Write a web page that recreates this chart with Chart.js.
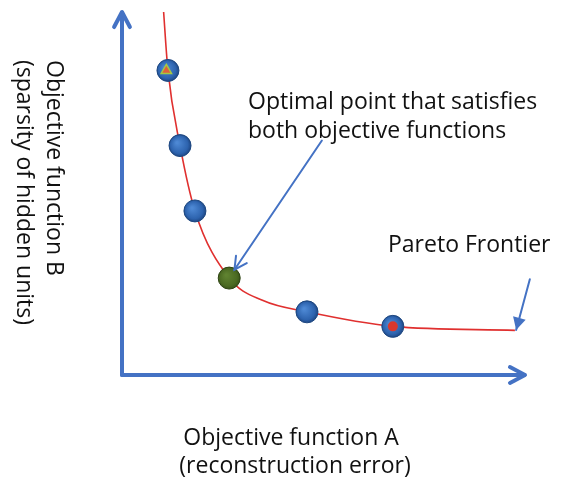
<!DOCTYPE html>
<html><head><meta charset="utf-8">
<script src="https://cdn.jsdelivr.net/npm/chart.js@4/dist/chart.umd.min.js"></script>
<style>html,body{margin:0;padding:0;background:#fff}#wrap{width:564px;height:482px}</style>
</head><body><div id="wrap"><canvas id="c" width="564" height="482"></canvas></div>
<script>
// Pareto frontier curve, axis units 0..100
const curveX = [10.2, 11.4, 14.4, 18.1, 26.6, 35.0, 45.9, 67.2, 97.5];
const curveY = [102, 83.9, 63.2, 45.2, 26.7, 20.5, 17.4, 13.4, 12.3];
// solutions on the frontier
const pointX = [11.4, 14.4, 18.1, 45.9, 67.2];
const pointY = [83.9, 63.2, 45.2, 17.4, 13.4];
// optimal point
const optimalX = [26.6];
const optimalY = [26.7];
// red marked solution
const redX = [67.2];
const redY = [13.4];
// small triangle marker on first point
const triX = [11.0];
const triY = [83.9];

const xTitle = ["Objective function A", "(reconstruction error)"];
const yTitle = ["Objective function B", "(sparsity of hidden units)"];
const annoText = ["Optimal point that satisfies", "both objective functions"];
const paretoText = "Pareto Frontier";
// arrows: [fromX, fromY, toX, toY] in data units
const optimalArrow = [49.6, 64.6, 27.9, 29.0];
const paretoArrow = [101.2, 26.4, 97.8, 12.4];

const zip = (xs, ys) => xs.map((x, i) => ({x, y: ys[i]}));
const FONT = '"Open Sans", "Noto Sans", sans-serif';
const BLUE = '#4472c4';

function sphere(base, light, dark) {
  return (ctx) => {
    const ch = ctx.chart;
    if (!ch.scales || !ch.scales.x || !ctx.parsed) return base;
    const px = ch.scales.x.getPixelForValue(ctx.parsed.x);
    const py = ch.scales.y.getPixelForValue(ctx.parsed.y);
    if (!isFinite(px) || !isFinite(py)) return base;
    const g = ch.ctx.createRadialGradient(px - 3, py - 3, 1, px, py, 12);
    g.addColorStop(0, light);
    g.addColorStop(0.7, base);
    g.addColorStop(1, dark);
    return g;
  };
}

function arrowHead(c, x1, y1, x2, y2, len, open) {
  const a = Math.atan2(y2 - y1, x2 - x1);
  const sp = Math.PI / 6.5;
  c.beginPath();
  c.moveTo(x2 - len * Math.cos(a - sp), y2 - len * Math.sin(a - sp));
  c.lineTo(x2, y2);
  c.lineTo(x2 - len * Math.cos(a + sp), y2 - len * Math.sin(a + sp));
  if (open) { c.stroke(); } else { c.closePath(); c.fill(); }
}

const decor = {
  id: 'decor',
  beforeDatasetsDraw(chart) {
    const c = chart.ctx, a = chart.chartArea;
    c.save();
    c.strokeStyle = BLUE; c.lineWidth = 4; c.lineCap = 'round'; c.lineJoin = 'round';
    c.beginPath(); c.moveTo(a.left, a.bottom); c.lineTo(a.left, a.top + 1); c.stroke();
    arrowHead(c, a.left, a.bottom, a.left, a.top, 17, true);
    c.beginPath(); c.moveTo(a.left, a.bottom); c.lineTo(a.right - 1, a.bottom); c.stroke();
    arrowHead(c, a.left, a.bottom, a.right, a.bottom, 17, true);
    c.restore();
  },
  afterDatasetsDraw(chart) {
    const c = chart.ctx;
    const sx = chart.scales.x, sy = chart.scales.y;
    c.save();
    let [fx, fy, tx, ty] = optimalArrow.map((v, i) => i % 2 ? sy.getPixelForValue(v) : sx.getPixelForValue(v));
    c.strokeStyle = BLUE; c.fillStyle = BLUE; c.lineWidth = 2; c.lineCap = 'round';
    c.beginPath(); c.moveTo(fx, fy); c.lineTo(tx, ty); c.stroke();
    arrowHead(c, fx, fy, tx, ty, 14, true);
    [fx, fy, tx, ty] = paretoArrow.map((v, i) => i % 2 ? sy.getPixelForValue(v) : sx.getPixelForValue(v));
    c.beginPath(); c.moveTo(fx, fy); c.lineTo(tx, ty); c.stroke();
    arrowHead(c, fx, fy, tx, ty, 14, false);

    c.fillStyle = '#111';
    c.font = '23px ' + FONT;
    c.textBaseline = 'alphabetic';
    c.textAlign = 'left';
    c.fillText(annoText[0], 248, 109);
    c.fillText(annoText[1], 248, 138);
    c.fillText(paretoText, 388, 252);
    c.textAlign = 'center';
    c.fillText(xTitle[0], 291, 445);
    c.fillText(xTitle[1], 295, 473);
    c.textAlign = 'left';
    c.save(); c.translate(47, 60); c.rotate(Math.PI / 2); c.fillText(yTitle[0], 0, 0); c.restore();
    c.save(); c.translate(17, 60); c.rotate(Math.PI / 2); c.fillText(yTitle[1], 0, 0); c.restore();
    c.restore();
  }
};

new Chart(document.getElementById('c'), {
  type: 'scatter',
  data: {
    datasets: [
      { type: 'line', data: zip(curveX, curveY), borderColor: '#e0302f', borderWidth: 1.6,
        pointRadius: 0, tension: 0.4, cubicInterpolationMode: 'monotone', fill: false, order: 5 },
      { data: zip(pointX, pointY), pointRadius: 11, pointHoverRadius: 11, borderWidth: 1,
        pointBorderColor: '#1d4780', pointBackgroundColor: sphere('#2d63ae', '#4d88d4', '#1a3f78'), order: 4 },
      { data: zip(optimalX, optimalY), pointRadius: 11, pointHoverRadius: 11, borderWidth: 1,
        pointBorderColor: '#2f4414', pointBackgroundColor: sphere('#4b6a22', '#5f8230', '#334d15'), order: 3 },
      { data: zip(redX, redY), pointRadius: 5, pointHoverRadius: 5, borderWidth: 0,
        pointBackgroundColor: '#d8382e', order: 2 },
      { data: zip(triX, triY), pointStyle: 'triangle', pointRadius: 6, pointHoverRadius: 6, borderWidth: 1.5,
        pointBorderColor: '#a6c940', pointBackgroundColor: '#e0603a', order: 1 }
    ]
  },
  options: {
    responsive: false, animation: false,
    layout: { padding: { left: 122, right: 39, top: 8, bottom: 107 } },
    scales: {
      x: { type: 'linear', min: 0, max: 100, display: false },
      y: { type: 'linear', min: 0, max: 100, display: false }
    },
    plugins: { legend: { display: false }, tooltip: { enabled: false } },
    events: []
  },
  plugins: [decor]
});
</script>
</body></html>
